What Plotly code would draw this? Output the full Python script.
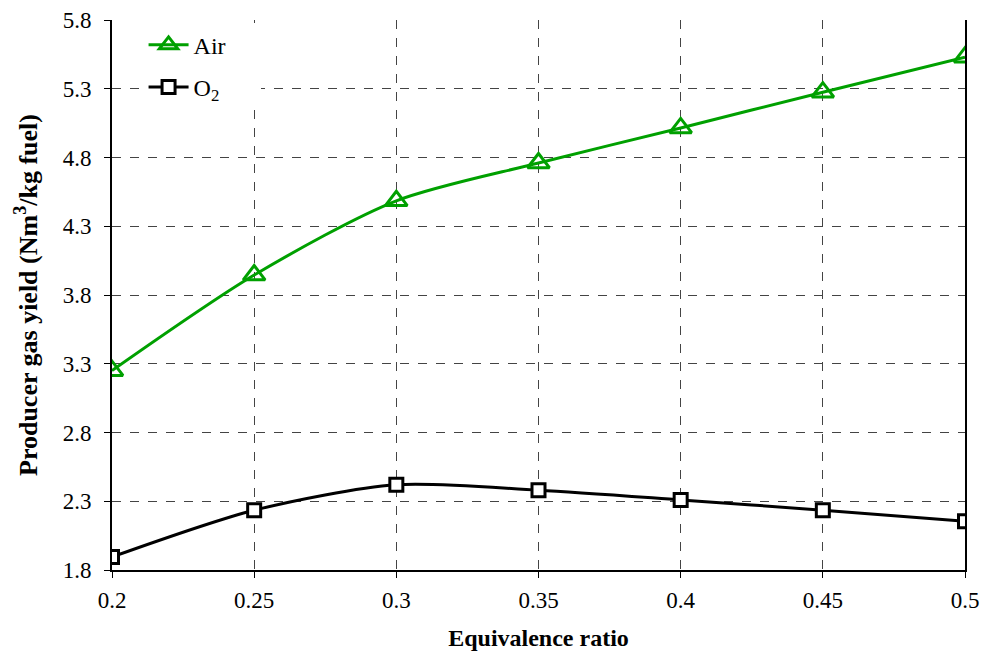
import plotly.graph_objects as go

eq_ratio = [0.2, 0.25, 0.3, 0.35, 0.4, 0.45, 0.5]
air_yield = [3.25, 3.945, 4.485, 4.76, 5.015, 5.275, 5.53]
o2_yield = [1.895, 2.235, 2.42, 2.38, 2.31, 2.235, 2.155]

x_ticks = [0.2, 0.25, 0.3, 0.35, 0.4, 0.45, 0.5]
x_labels = ["0.2", "0.25", "0.3", "0.35", "0.4", "0.45", "0.5"]
y_ticks = [1.8, 2.3, 2.8, 3.3, 3.8, 4.3, 4.8, 5.3, 5.8]
y_labels = ["1.8", "2.3", "2.8", "3.3", "3.8", "4.3", "4.8", "5.3", "5.8"]

FONT = "Liberation Serif, Times New Roman, serif"

fig = go.Figure()
fig.add_trace(go.Scatter(
    x=eq_ratio, y=air_yield, name="Air&nbsp;&nbsp;&nbsp;&nbsp;&nbsp;", mode="lines+markers",
    line=dict(color="#00A000", width=3, shape="spline", smoothing=0.8),
    marker=dict(symbol="triangle-up-open", size=19, color="#00A000",
                line=dict(width=3, color="#00A000")),
    legendgroup="a",
))
fig.add_trace(go.Scatter(
    x=eq_ratio, y=o2_yield, name="O<sub>2</sub>", mode="lines+markers",
    line=dict(color="black", width=3, shape="spline", smoothing=0.8),
    marker=dict(symbol="square", size=13, color="white",
                line=dict(width=3, color="black")),
    legendgroup="b",
))

fig.update_layout(
    width=982, height=657,
    margin=dict(l=112, r=17, t=20, b=87),
    paper_bgcolor="white", plot_bgcolor="white",
    font=dict(family=FONT, size=23, color="black"),
    showlegend=True,
    legend=dict(
        x=0.037, y=0.995, xanchor="left", yanchor="top",
        bgcolor="white", font=dict(family=FONT, size=24, color="black"),
        traceorder="grouped", tracegroupgap=8,
        itemwidth=40,
    ),
    xaxis=dict(
        range=[0.2, 0.5], tickvals=x_ticks, ticktext=x_labels,
        showline=True, linecolor="black", linewidth=2, automargin=False,
        ticks="outside", ticklen=6, tickcolor="black", tickwidth=1,
        showgrid=True, gridcolor="#444444", griddash="dash", gridwidth=1,
        zeroline=False, ticklabelstandoff=2,
        tickfont=dict(family=FONT, size=23),
        title=dict(text="<b>Equivalence ratio</b>", font=dict(family=FONT, size=24), standoff=18),
    ),
    yaxis=dict(
        range=[1.8, 5.8], tickvals=y_ticks, ticktext=y_labels,
        showline=True, linecolor="black", linewidth=2, mirror=True, automargin=False,
        ticks="outside", ticklen=6, tickcolor="black", tickwidth=1,
        showgrid=True, gridcolor="#444444", griddash="dash", gridwidth=1,
        zeroline=False, ticklabelstandoff=8,
        tickfont=dict(family=FONT, size=23),
        title=dict(text="<b>Producer gas yield (Nm<sup>3</sup>/kg fuel)</b>", font=dict(family=FONT, size=26), standoff=18),
    ),
)

fig.write_html("out.html")
